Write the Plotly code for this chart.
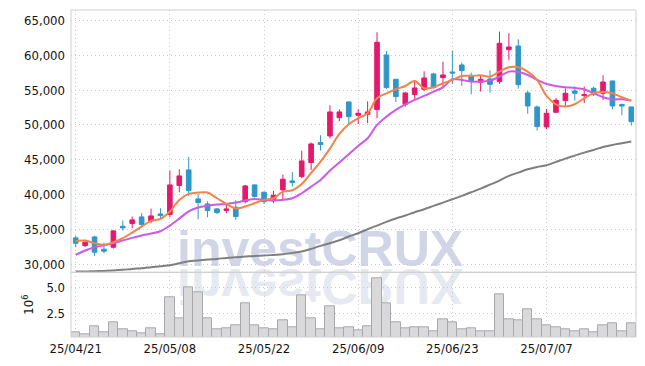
import plotly.graph_objects as go

# ---- data ----
tick_pos = [0, 10, 20, 30, 40, 50]
tick_labels = ["25/04/21", "25/05/08", "25/05/22", "25/06/09", "25/06/23", "25/07/07"]

opens = [33787, 32687, 33930, 32161, 32447, 35460, 35842, 36798, 36224, 37228,
         37133, 41291, 43538, 39379, 38662, 37945, 37706, 38184, 38997, 41387,
         40335, 39092, 40669, 41960, 42582, 44589, 47457, 48413, 51042, 53289,
         51377, 51520, 52189, 60029, 56539, 52954, 54341, 55105, 57304, 56778,
         57591, 58595, 57113, 56109, 56587, 56205, 60794, 61319, 54580, 52572,
         49704, 51807, 53480, 54866, 54197, 55249, 54532, 56300, 52907, 52572]
highs = [34120, 33500, 34073, 33117, 34934, 36272, 36846, 37324, 37993, 38041,
         43444, 43633, 45402, 40096, 39044, 38089, 38758, 39187, 41387, 41482,
         40431, 40526, 42869, 43251, 46310, 47457, 48509, 52811, 52237, 53385,
         52237, 53385, 63279, 60602, 56587, 54771, 56444, 57687, 57495, 59073,
         60602, 58930, 57495, 57161, 57830, 63375, 63136, 62275, 54866, 52763,
         52285, 53863, 55249, 55536, 55488, 55488, 57113, 56300, 53050, 52572]
lows = [32447, 32447, 31205, 31588, 32257, 34838, 35173, 35508, 35890, 36607,
        36750, 40335, 39809, 36463, 36750, 37228, 37324, 36368, 38758, 39570,
        38662, 38758, 39140, 41148, 42343, 43538, 46310, 48031, 50517, 49991,
        50134, 50230, 50947, 55153, 53289, 52619, 53576, 54819, 55201, 55488,
        55870, 55583, 54389, 54771, 54628, 55870, 59264, 55201, 51616, 49178,
        49369, 51711, 52524, 53480, 53098, 54150, 53576, 52237, 51377, 49895]
closes = [33022, 33165, 31730, 31875, 34790, 35221, 36368, 35700, 36942, 36990,
          41387, 42677, 40574, 38853, 37706, 37419, 37945, 36846, 41243, 39714,
          38997, 39905, 42199, 41721, 44828, 47266, 47171, 51855, 51855, 51186,
          51664, 51855, 61845, 55344, 54054, 54580, 55297, 56730, 55344, 57161,
          57448, 57782, 56205, 56539, 55822, 61702, 61176, 55774, 52715, 49752,
          51664, 53528, 54532, 54532, 54341, 54341, 56157, 52715, 52715, 50469]

ma5 = [33356, 33404, 33022, 32783, 33165, 33739, 34551, 35412, 36224, 36511,
       37563, 39236, 40096, 40287, 40287, 39475, 38663, 37993, 38280, 38758,
       39236, 39475, 40431, 40622, 41530, 43108, 44733, 46597, 48700, 50086,
       50947, 51664, 53815, 54532, 55105, 55583, 56300, 55249, 55392, 55966,
       56444, 57017, 57017, 57113, 56922, 57639, 58260, 58260, 57639, 56444,
       54150, 52954, 52620, 52954, 53815, 54532, 54723, 54532, 53958, 53480]
ma10 = [31349, 31970, 32447, 32734, 33022, 33404, 33787, 34120, 34408, 34742,
        35550, 36550, 37600, 38150, 38400, 38566, 38662, 38853, 39140, 39379,
        39236, 39188, 39236, 39475, 40192, 41148, 42104, 43442, 44589, 45784,
        46979, 48079, 49991, 51186, 52142, 52954, 53576, 54150, 54771, 55392,
        56539, 56444, 56205, 56205, 56348, 56922, 57639, 57591, 57161, 56444,
        55870, 55583, 55392, 55297, 55105, 54532, 53958, 53671, 53671, 53480]
ma_long = [28959, 28959, 29007, 29054, 29102, 29198, 29341, 29437, 29580, 29724,
           29867, 30154, 30441, 30536, 30680, 30775, 30919, 31014, 31110, 31206,
           31253, 31349, 31444, 31636, 31827, 32209, 32640, 33022, 33452, 33978,
           34456, 35029, 35555, 36081, 36559, 36989, 37467, 37897, 38375, 38853,
           39331, 39809, 40335, 40861, 41435, 42008, 42677, 43155, 43633, 43968,
           44207, 44685, 45163, 45593, 46023, 46406, 46836, 47123, 47362, 47601]

volume_m = [0.67, 0.48, 1.25, 0.67, 1.63, 0.96, 0.77, 0.58, 1.06, 0.48,
            4.04, 2.02, 5.00, 4.52, 2.02, 0.89, 1.05, 1.28, 3.46, 1.28,
            1.05, 0.96, 1.83, 1.15, 4.23, 2.02, 0.96, 3.17, 1.05, 1.15,
            0.83, 1.25, 5.87, 3.46, 1.63, 1.05, 1.15, 1.15, 0.77, 1.92,
            1.63, 0.96, 1.05, 0.77, 0.77, 4.33, 1.92, 1.83, 2.88, 1.92,
            1.35, 1.15, 0.96, 0.77, 0.96, 0.67, 1.35, 1.54, 0.77, 1.54]

idx = list(range(len(closes)))

RED = "#e5196b"
BLUE = "#2f96c8"
GRID = "#c5cad8"
FONT = "DejaVu Sans Condensed"
TICKFONT = dict(family=FONT, size=13, color="#141414")

fig = go.Figure()

fig.add_trace(go.Bar(
    x=idx, y=volume_m, yaxis="y2",
    marker=dict(color="#d9d9db", line=dict(color="#a9a9ab", width=1)),
    showlegend=False, hoverinfo="skip"))

fig.add_trace(go.Candlestick(
    x=idx, open=opens, high=highs, low=lows, close=closes,
    increasing=dict(line=dict(color=RED, width=1), fillcolor=RED),
    decreasing=dict(line=dict(color=BLUE, width=1), fillcolor=BLUE),
    whiskerwidth=0, showlegend=False))

fig.add_trace(go.Scatter(x=idx, y=ma_long, mode="lines",
                         line=dict(color="#7f7f7f", width=2, shape="spline"),
                         showlegend=False))
fig.add_trace(go.Scatter(x=idx, y=ma10, mode="lines",
                         line=dict(color="#cc5ae8", width=2, shape="spline"),
                         showlegend=False))
fig.add_trace(go.Scatter(x=idx, y=ma5, mode="lines",
                         line=dict(color="#f0844a", width=2, shape="spline"),
                         showlegend=False))

split = (337 - 272.3) / 327.0

fig.update_layout(
    width=645, height=366,
    margin=dict(l=71, r=9, t=10, b=29),
    paper_bgcolor="white", plot_bgcolor="white",
    bargap=0,
    font=dict(family=FONT, size=13, color="#141414"),
    xaxis=dict(
        range=[-0.5, 59.5], tickvals=tick_pos, ticktext=tick_labels,
        showgrid=True, gridcolor=GRID, griddash="1px,3px", gridwidth=1,
        zeroline=False, ticks="", ticklabelstandoff=2,
        rangeslider=dict(visible=False), anchor="y2",
        tickfont=TICKFONT),
    yaxis=dict(
        domain=[split, 1], range=[28850, 66480],
        tickvals=[30000, 35000, 40000, 45000, 50000, 55000, 60000, 65000],
        tickformat=",d", showgrid=True, gridcolor=GRID, griddash="1px,3px",
        zeroline=False, ticks="", ticklabelstandoff=5,
        tickfont=TICKFONT),
    yaxis2=dict(
        domain=[0, split], range=[0.19, 6.44],
        tickvals=[2.5, 5.0], ticktext=["2.5", "5.0"],
        showgrid=True, gridcolor=GRID, griddash="1px,3px",
        zeroline=False, ticks="", ticklabelstandoff=5,
        title=dict(text="10<sup>6</sup>", standoff=9,
                   font=dict(family=FONT, size=13, color="#141414")),
        tickfont=TICKFONT),
    shapes=[
        dict(type="rect", xref="paper", yref="paper", x0=0, x1=1, y0=split, y1=1,
             line=dict(color="#cfcfcf", width=1)),
        dict(type="rect", xref="paper", yref="paper", x0=0, x1=1, y0=0, y1=split,
             line=dict(color="#cfcfcf", width=1)),
    ],
    annotations=[
        dict(text="investCRUX", xref="paper", yref="paper",
             x=(320 - 71) / 565.0, y=(337 - 249.0) / 327.0,
             xanchor="center", yanchor="middle", showarrow=False,
             font=dict(family="Liberation Sans", size=50, color="#d0d6e8", weight="bold")),
        dict(text="investCRUX", xref="paper", yref="paper",
             x=(320 - 71) / 565.0, y=(337 - 249.0) / 327.0,
             xanchor="center", yanchor="middle", showarrow=False,
             font=dict(family="Liberation Sans", size=50, color="#e7e9f2", weight="bold")),
    ],
)

post = """
document.body.style.margin = '0';
var gd = document.getElementById('{plot_id}');
var below = gd.querySelector('.main-svg .layer-below');
var anns = gd.querySelectorAll('.infolayer g.annotation');
for (var k = anns.length - 1; k >= 0; k--) { below.appendChild(anns[k]); }
var refl = below.querySelector('g.annotation[data-index="1"]');
if (refl) { refl.setAttribute('transform', 'translate(0,535) scale(1,-1)'); }
"""

fig.write_html("out.html", config={"displayModeBar": False, "responsive": False},
               post_script=post)
